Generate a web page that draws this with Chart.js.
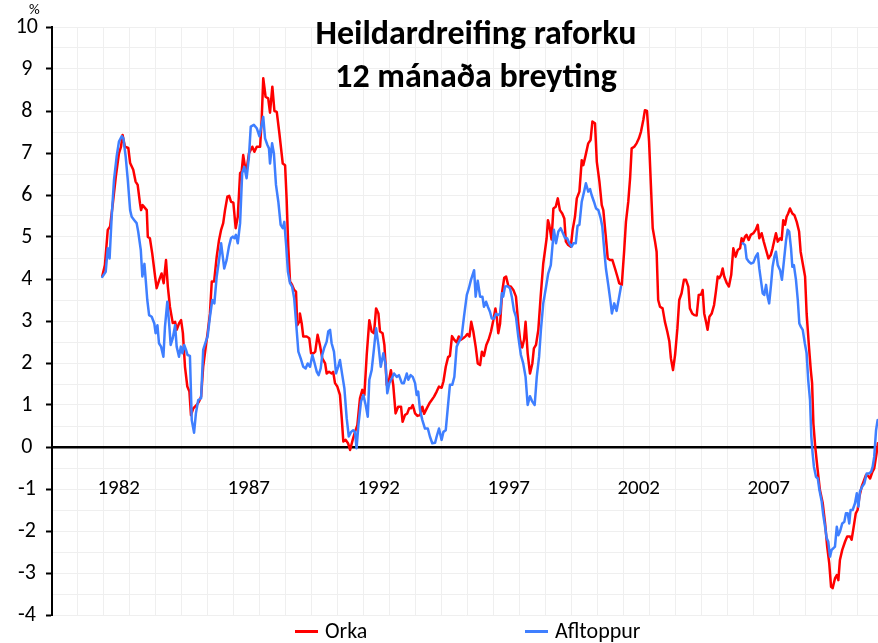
<!DOCTYPE html>
<html>
<head>
<meta charset="utf-8">
<script src="https://cdn.jsdelivr.net/npm/chart.js@4/dist/chart.umd.min.js"></script>
<style>
  html, body { margin: 0; padding: 0; background: #ffffff; }
  #wrap { position: relative; width: 878px; height: 643px; overflow: hidden; font-family: Calibri, Carlito, Lato, "DejaVu Sans", sans-serif; color: #000; }
  #c { position: absolute; left: 0; top: 0; }
  #title { position: absolute; left: 226px; top: 11px; width: 500px; text-align: center; font-weight: bold; font-size: 34px; line-height: 43px; }
  #pct { position: absolute; left: 29px; top: 0px; font-size: 15px; }
  .leg { position: absolute; top: 618px; height: 26px; font-size: 22px; line-height: 25px; white-space: nowrap; }
  .leg span.sw { display: inline-block; width: 23px; height: 3px; vertical-align: middle; margin-right: 7px; position: relative; top: -1px; }
</style>
</head>
<body>
<div id="wrap">
  <canvas id="c" width="878" height="643"></canvas>
  <div id="title">Heildardreifing raforku<br>12 mánaða breyting</div>
  <div id="pct">%</div>
  <div class="leg" style="left:295px"><span class="sw" style="background:#ff0000"></span>Orka</div>
  <div class="leg" style="left:525px"><span class="sw" style="background:#3f7fff"></span>Afltoppur</div>
</div>
<script>
// ---- data (decimal year, 12-month change in %) ----
const orkaYears = [1981.37,1981.47,1981.58,1981.67,1981.79,1981.89,1982.01,1982.09,1982.15,1982.24,1982.37,1982.44,1982.56,1982.65,1982.73,1982.82,1982.86,1982.92,1983.08,1983.12,1983.20,1983.29,1983.40,1983.46,1983.56,1983.65,1983.73,1983.82,1983.89,1983.97,1984.08,1984.17,1984.23,1984.32,1984.40,1984.47,1984.55,1984.64,1984.72,1984.78,1984.87,1985.00,1985.09,1985.17,1985.25,1985.35,1985.42,1985.51,1985.58,1985.67,1985.77,1985.86,1985.94,1986.02,1986.09,1986.18,1986.25,1986.32,1986.41,1986.50,1986.58,1986.67,1986.73,1986.79,1986.86,1986.92,1987.01,1987.14,1987.22,1987.31,1987.44,1987.50,1987.56,1987.65,1987.75,1987.82,1987.91,1987.99,1988.08,1988.18,1988.31,1988.40,1988.46,1988.52,1988.59,1988.67,1988.75,1988.82,1988.87,1988.94,1988.97,1989.04,1989.10,1989.23,1989.33,1989.40,1989.49,1989.56,1989.65,1989.74,1989.83,1989.94,1990.00,1990.09,1990.19,1990.25,1990.32,1990.41,1990.51,1990.58,1990.64,1990.73,1990.82,1990.90,1991.00,1991.09,1991.18,1991.28,1991.37,1991.45,1991.54,1991.64,1991.73,1991.82,1991.90,1991.99,1992.05,1992.15,1992.22,1992.31,1992.41,1992.47,1992.56,1992.65,1992.75,1992.86,1992.92,1993.01,1993.10,1993.17,1993.24,1993.31,1993.40,1993.49,1993.59,1993.68,1993.75,1993.85,1993.95,1994.04,1994.13,1994.23,1994.32,1994.42,1994.49,1994.58,1994.67,1994.74,1994.82,1994.91,1995.00,1995.08,1995.15,1995.25,1995.35,1995.41,1995.49,1995.56,1995.64,1995.73,1995.81,1995.90,1995.97,1996.05,1996.14,1996.23,1996.32,1996.41,1996.49,1996.54,1996.60,1996.67,1996.75,1996.83,1996.90,1996.99,1997.08,1997.18,1997.28,1997.37,1997.44,1997.52,1997.59,1997.65,1997.73,1997.82,1997.91,1997.97,1998.05,1998.14,1998.23,1998.33,1998.40,1998.46,1998.51,1998.56,1998.65,1998.72,1998.81,1998.89,1998.97,1999.06,1999.14,1999.20,1999.29,1999.39,1999.46,1999.55,1999.62,1999.72,1999.81,1999.87,1999.96,2000.06,2000.15,2000.22,2000.32,2000.39,2000.49,2000.58,2000.64,2000.73,2000.81,2000.90,2000.99,2001.09,2001.18,2001.25,2001.35,2001.44,2001.51,2001.60,2001.67,2001.73,2001.83,2001.92,2002.01,2002.09,2002.18,2002.24,2002.32,2002.40,2002.47,2002.54,2002.63,2002.69,2002.75,2002.82,2002.92,2003.01,2003.10,2003.18,2003.24,2003.32,2003.40,2003.49,2003.56,2003.65,2003.74,2003.82,2003.91,2003.97,2004.06,2004.14,2004.23,2004.31,2004.40,2004.46,2004.52,2004.59,2004.65,2004.72,2004.81,2004.90,2004.97,2005.04,2005.10,2005.17,2005.23,2005.29,2005.39,2005.47,2005.56,2005.64,2005.73,2005.81,2005.90,2005.96,2006.02,2006.09,2006.15,2006.23,2006.31,2006.41,2006.50,2006.58,2006.64,2006.73,2006.81,2006.90,2006.99,2007.08,2007.15,2007.22,2007.28,2007.35,2007.44,2007.50,2007.56,2007.63,2007.69,2007.75,2007.82,2007.91,2007.99,2008.08,2008.17,2008.23,2008.31,2008.40,2008.46,2008.54,2008.62,2008.67,2008.72,2008.79,2008.87,2008.97,2009.08,2009.17,2009.25,2009.33,2009.40,2009.46,2009.55,2009.62,2009.68,2009.74,2009.83,2009.94,2010.02,2010.13,2010.19,2010.25,2010.35,2010.42,2010.49,2010.58,2010.67,2010.74,2010.83,2010.90,2010.99,2011.06,2011.15,2011.20];
const orkaValues = [4.07,4.33,5.17,5.25,5.88,6.44,6.99,7.15,7.43,7.15,7.12,6.76,6.6,6.32,6.24,5.8,5.64,5.76,5.64,5.0,4.97,4.61,4.06,3.78,3.98,4.13,3.9,4.45,3.82,3.34,2.95,2.98,2.79,2.94,3.02,2.71,1.91,1.44,1.32,0.76,0.92,1.0,1.08,1.2,1.91,2.39,2.71,3.18,3.94,3.94,4.53,4.93,5.17,5.33,5.64,5.96,5.98,5.84,5.82,5.21,5.48,6.52,6.56,6.95,6.67,6.6,6.99,7.15,7.03,7.15,7.15,7.8,8.78,8.34,8.30,7.96,8.58,8.0,7.98,7.47,6.75,6.71,5.9,4.8,3.94,3.86,3.74,3.70,2.90,2.98,3.18,2.94,2.63,2.63,2.59,2.23,2.23,2.27,2.67,2.43,2.11,1.99,1.75,1.79,1.75,1.79,1.52,1.44,1.24,0.68,0.13,0.17,0.09,-0.07,0.17,0.36,0.52,1.16,1.36,1.24,2.19,3.02,2.75,2.71,3.30,3.18,2.75,2.71,2.43,1.48,1.63,1.83,1.48,0.80,0.96,0.96,0.60,0.76,0.80,0.92,0.92,1.0,0.80,0.74,0.76,0.96,0.79,0.92,1.04,1.12,1.20,1.32,1.44,1.41,1.56,1.91,2.14,2.17,2.64,2.55,2.49,2.63,2.55,2.59,2.64,2.69,2.63,2.98,2.75,2.39,1.99,1.95,2.27,2.17,2.43,2.56,2.75,3.02,3.30,3.10,2.71,2.94,3.70,4.03,4.06,3.83,3.82,3.74,3.58,2.94,2.55,2.37,2.55,2.98,2.23,1.75,1.99,2.35,2.43,2.79,3.58,4.37,4.69,4.97,5.40,5.29,4.94,5.68,5.72,5.92,5.64,5.56,5.44,4.89,4.81,4.77,5.17,5.48,5.92,6.08,6.83,6.71,6.95,7.23,7.31,7.75,7.71,6.79,6.32,5.76,5.64,5.05,4.49,4.45,4.45,4.25,4.06,3.90,3.86,4.65,5.36,5.84,6.40,7.11,7.15,7.23,7.35,7.51,7.79,8.02,8.0,7.27,6.24,5.21,4.89,4.65,3.50,3.34,3.30,2.98,2.75,2.51,2.11,1.83,2.19,2.83,3.50,3.66,3.98,3.98,3.82,3.30,3.18,3.14,3.13,3.62,3.63,3.74,3.18,2.98,2.79,3.10,3.18,3.38,3.70,4.06,4.02,4.10,4.25,4.06,3.90,3.82,4.10,4.73,4.53,4.69,4.73,4.97,4.89,5.01,5.05,4.93,5.05,5.09,5.17,5.29,4.97,5.09,4.89,4.69,4.49,4.57,4.73,4.93,5.09,4.89,4.97,4.93,5.40,5.29,5.48,5.56,5.68,5.56,5.52,5.36,5.13,4.65,4.37,4.06,3.18,2.47,1.83,1.52,0.56,0.01,-0.47,-1.02,-1.34,-1.82,-2.37,-2.77,-3.33,-3.36,-3.13,-3.05,-3.17,-2.69,-2.45,-2.25,-2.13,-2.13,-2.21,-1.98,-1.58,-1.5,-1.18,-0.94,-0.79,-0.67,-0.69,-0.75,-0.59,-0.51,-0.15,0.09];

const aflYears = [1981.37,1981.50,1981.58,1981.65,1981.73,1981.82,1981.92,1982.01,1982.12,1982.18,1982.27,1982.35,1982.44,1982.50,1982.60,1982.69,1982.75,1982.85,1982.91,1982.99,1983.04,1983.10,1983.17,1983.27,1983.37,1983.42,1983.49,1983.55,1983.63,1983.72,1983.78,1983.87,1983.94,1984.00,1984.08,1984.17,1984.23,1984.32,1984.39,1984.45,1984.52,1984.59,1984.65,1984.74,1984.81,1984.90,1984.97,1985.06,1985.17,1985.25,1985.35,1985.42,1985.51,1985.60,1985.68,1985.77,1985.86,1985.94,1986.06,1986.15,1986.24,1986.32,1986.39,1986.45,1986.51,1986.58,1986.67,1986.75,1986.83,1986.92,1987.01,1987.08,1987.20,1987.31,1987.41,1987.50,1987.56,1987.63,1987.72,1987.78,1987.82,1987.90,1987.97,1988.05,1988.14,1988.23,1988.31,1988.37,1988.44,1988.51,1988.59,1988.67,1988.75,1988.85,1988.91,1989.00,1989.10,1989.19,1989.27,1989.36,1989.45,1989.52,1989.62,1989.69,1989.77,1989.83,1989.90,1990.00,1990.06,1990.13,1990.19,1990.28,1990.36,1990.44,1990.51,1990.60,1990.68,1990.77,1990.85,1990.94,1991.02,1991.09,1991.15,1991.22,1991.32,1991.41,1991.50,1991.58,1991.64,1991.73,1991.82,1991.90,1991.99,1992.08,1992.18,1992.27,1992.33,1992.41,1992.50,1992.59,1992.69,1992.78,1992.89,1992.97,1993.08,1993.14,1993.23,1993.31,1993.40,1993.46,1993.52,1993.59,1993.68,1993.78,1993.89,1993.97,1994.06,1994.17,1994.23,1994.32,1994.42,1994.49,1994.58,1994.65,1994.74,1994.83,1994.91,1995.00,1995.09,1995.19,1995.28,1995.39,1995.47,1995.55,1995.67,1995.73,1995.81,1995.90,1995.99,1996.05,1996.13,1996.20,1996.28,1996.35,1996.44,1996.51,1996.59,1996.67,1996.74,1996.79,1996.86,1996.95,1997.05,1997.12,1997.20,1997.28,1997.37,1997.47,1997.56,1997.65,1997.73,1997.82,1997.91,1998.00,1998.08,1998.17,1998.24,1998.33,1998.44,1998.52,1998.62,1998.67,1998.74,1998.82,1998.91,1999.00,1999.08,1999.17,1999.25,1999.33,1999.42,1999.49,1999.58,1999.65,1999.72,1999.81,1999.90,1999.97,2000.06,2000.13,2000.19,2000.28,2000.36,2000.45,2000.54,2000.60,2000.68,2000.74,2000.83,2000.90,2000.97,2001.06,2001.15,2001.24,2001.32,2003.60,2006.00,2006.09,2006.15,2006.24,2006.32,2006.41,2006.50,2006.58,2006.64,2006.70,2006.77,2006.83,2006.90,2006.96,2007.02,2007.09,2007.15,2007.22,2007.28,2007.35,2007.44,2007.51,2007.59,2007.67,2007.73,2007.79,2007.86,2007.91,2007.97,2008.05,2008.12,2008.18,2008.24,2008.31,2008.39,2008.46,2008.52,2008.59,2008.64,2008.69,2008.74,2008.82,2008.89,2008.95,2009.04,2009.10,2009.17,2009.23,2009.29,2009.36,2009.42,2009.49,2009.55,2009.62,2009.68,2009.74,2009.83,2009.91,2009.97,2010.04,2010.10,2010.15,2010.23,2010.32,2010.39,2010.45,2010.51,2010.60,2010.68,2010.77,2010.86,2010.94,2011.00,2011.06,2011.13,2011.19];
const aflValues = [4.05,4.17,4.73,4.49,5.48,6.36,6.91,7.27,7.40,7.35,6.91,6.36,5.64,5.48,5.40,5.33,5.13,4.69,4.06,4.36,3.98,3.50,3.14,3.10,2.94,2.71,2.90,2.47,2.39,2.15,2.86,3.46,2.94,2.43,2.59,2.90,2.39,2.15,2.39,2.23,2.43,2.31,2.19,2.17,0.64,0.34,0.80,1.12,1.16,2.31,2.51,2.63,3.10,3.50,3.42,4.06,4.45,4.85,4.25,4.45,4.77,4.97,5.01,4.97,5.05,4.85,5.33,6.52,6.67,6.40,6.91,7.63,7.67,7.59,7.40,7.67,7.86,7.35,7.19,7.11,6.75,7.23,6.99,6.24,5.84,5.29,5.21,5.36,4.81,4.17,3.90,3.82,3.54,2.75,2.27,2.11,1.91,1.87,1.99,1.91,2.19,2.03,1.79,1.71,1.87,2.19,2.35,2.51,2.75,2.79,2.47,2.27,1.75,1.91,2.07,1.71,1.40,0.68,0.25,0.36,0.40,0.36,-0.03,0.52,1.08,1.24,1.0,0.72,1.60,1.83,2.35,2.83,2.43,1.91,2.23,1.95,1.28,1.52,1.63,1.75,1.67,1.71,1.52,1.52,1.75,1.60,1.71,1.67,1.52,1.24,1.32,0.88,0.64,0.44,0.44,0.25,0.09,0.10,0.25,0.44,0.17,0.36,0.40,0.88,1.48,1.48,1.67,2.39,2.51,2.63,3.10,3.62,3.78,3.98,4.21,3.58,3.96,3.58,3.58,3.34,3.46,3.34,3.22,3.06,3.06,3.17,3.14,3.18,3.66,3.58,3.82,3.83,3.78,3.58,3.26,3.10,2.63,2.19,1.99,1.67,1.0,1.21,1.08,1.0,1.67,2.15,2.79,3.42,3.82,4.13,4.33,4.69,5.17,4.85,5.13,5.21,5.10,4.97,4.97,4.85,4.77,4.85,4.85,5.27,5.29,5.84,6.08,6.28,6.08,6.14,6.0,5.84,5.68,5.64,5.44,5.25,4.65,4.25,3.86,3.54,3.18,3.42,3.24,3.54,3.82,null,4.85,4.81,4.49,4.41,4.37,4.39,4.53,4.61,4.25,3.98,3.66,3.62,3.86,3.58,3.42,3.86,4.29,4.53,4.65,4.33,4.21,3.98,4.45,4.93,5.17,5.13,4.73,4.29,4.33,3.98,3.50,2.94,2.86,2.79,2.47,2.23,1.60,1.12,0.25,-0.15,-0.47,-0.71,-0.75,-1.02,-1.30,-1.62,-1.90,-2.17,-2.25,-2.61,-2.45,-2.41,-2.37,-1.90,-2.10,-2.02,-1.82,-1.78,-1.58,-1.58,-1.82,-1.50,-1.50,-1.34,-1.10,-1.42,-1.06,-0.94,-0.87,-0.63,-0.63,-0.59,-0.47,-0.23,0.40,0.64];

const labelYears = [1982, 1987, 1992, 1997, 2002, 2007];
const gridYears = [1980.435,1981.435,1982.435,1983.435,1984.435,1985.435,1986.435,1987.435,1988.435,1989.435,1990.435,1991.435,1992.435,1993.435,1994.435,1995.435,1996.435,1997.435,1998.435,1999.435,2000.435,2001.435,2002.435,2003.435,2004.435,2005.435,2006.435,2007.435,2008.435,2009.435,2010.435];
const seriesNames = ['Orka', 'Afltoppur'];
const yMin = -4, yMax = 10;
const xMin = 1979.435, xMax = 2011.205;

const toPts = (xs, ys) => xs.map((x, i) => ({ x: x, y: ys[i] }));
const FONT = 'Calibri, Carlito, Lato, "DejaVu Sans", sans-serif';

new Chart(document.getElementById('c'), {
  type: 'line',
  data: {
    datasets: [
      { label: seriesNames[0], data: toPts(orkaYears, orkaValues), borderColor: '#ff0000', backgroundColor: '#ff0000', borderWidth: 2.5, order: 2, xAxisID: 'x', yAxisID: 'y' },
      { label: seriesNames[1], data: toPts(aflYears, aflValues), borderColor: '#3f7fff', backgroundColor: '#3f7fff', borderWidth: 2.5, order: 1, xAxisID: 'x', yAxisID: 'y', spanGaps: false }
    ]
  },
  options: {
    responsive: false,
    animation: false,
    devicePixelRatio: 1,
    layout: { padding: { top: 27, bottom: 28, left: 0, right: 0 } },
    elements: { point: { radius: 0 }, line: { tension: 0, borderJoinStyle: 'round', borderCapStyle: 'round' } },
    plugins: { legend: { display: false }, tooltip: { enabled: false }, title: { display: false } },
    scales: {
      x: {
        type: 'linear', min: xMin, max: xMax, position: { y: 0 },
        grid: { color: '#efefef', lineWidth: 1, drawTicks: false },
        border: { display: true, color: '#000000', width: 2.5 },
        ticks: { display: false },
        afterBuildTicks: (s) => { s.ticks = gridYears.map(v => ({ value: v })); }
      },
      xl: {
        type: 'linear', axis: 'x', min: xMin, max: xMax, position: { y: 0 },
        grid: { display: false, drawTicks: false },
        border: { display: false },
        ticks: { autoSkip: false, maxRotation: 0, padding: 29, color: '#000', font: { family: FONT, size: 21 }, callback: (v) => String(v) },
        afterBuildTicks: (s) => { s.ticks = labelYears.map(v => ({ value: v })); }
      },
      y: {
        type: 'linear', position: 'left', min: yMin, max: yMax,
        ticks: { stepSize: 0.5, autoSkip: false, color: '#000', padding: 8, crossAlign: 'center', font: { family: FONT, size: 22 },
                 callback: (v) => Number.isInteger(v) ? String(v) : '' },
        grid: { color: '#efefef', lineWidth: 1, tickLength: 6, tickWidth: 2,
                tickColor: (ctx) => (ctx.tick && Number.isInteger(ctx.tick.value)) ? '#000000' : 'rgba(0,0,0,0)' },
        border: { display: true, color: '#000000', width: 2 },
        afterFit: (s) => { s.width = 52; }
      }
    }
  }
});
</script>
</body>
</html>
